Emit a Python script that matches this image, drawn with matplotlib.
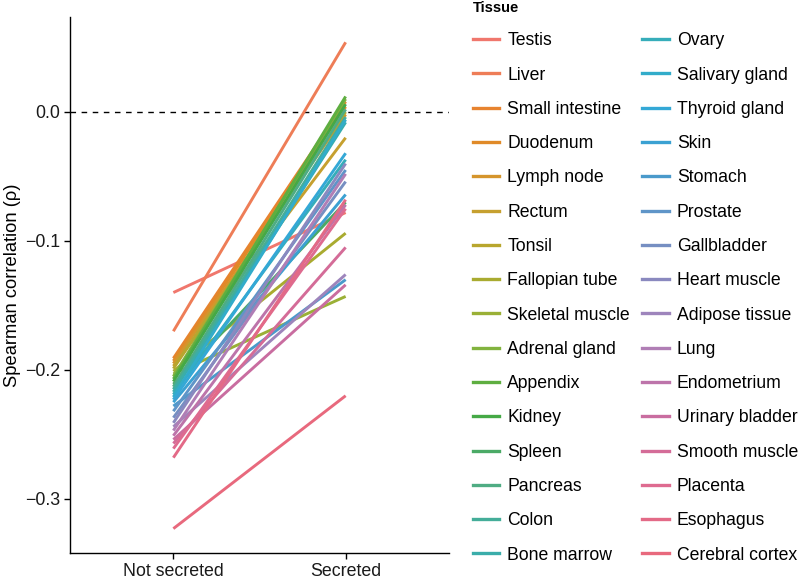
import numpy as np
import matplotlib
matplotlib.use('Agg')
import matplotlib.pyplot as plt
from matplotlib.lines import Line2D

plt.rcParams['font.family'] = ['Liberation Sans', 'DejaVu Sans']

groups = ['Not secreted', 'Secreted']

tissues = ['Testis', 'Liver', 'Small intestine', 'Duodenum', 'Lymph node', 'Rectum',
           'Tonsil', 'Fallopian tube', 'Skeletal muscle', 'Adrenal gland', 'Appendix',
           'Kidney', 'Spleen', 'Pancreas', 'Colon', 'Bone marrow', 'Ovary',
           'Salivary gland', 'Thyroid gland', 'Skin', 'Stomach', 'Prostate',
           'Gallbladder', 'Heart muscle', 'Adipose tissue', 'Lung', 'Endometrium',
           'Urinary bladder', 'Smooth muscle', 'Placenta', 'Esophagus', 'Cerebral cortex']

not_secreted = [-0.140, -0.170, -0.191, -0.193, -0.195, -0.197,
                -0.199, -0.201, -0.203, -0.205, -0.207,
                -0.209, -0.211, -0.213, -0.215, -0.217, -0.219,
                -0.221, -0.223, -0.225, -0.228, -0.232,
                -0.237, -0.241, -0.244, -0.247, -0.251,
                -0.254, -0.257, -0.261, -0.268, -0.323]

secreted = [-0.078, 0.054, 0.008, 0.004, -0.002, -0.020,
            0.000, -0.094, -0.143, 0.010, 0.012,
            0.006, -0.070, 0.002, -0.004, -0.008, -0.037,
            -0.006, -0.032, -0.064, -0.130, -0.045,
            -0.054, -0.040, -0.126, -0.048, -0.072,
            -0.134, -0.105, -0.075, -0.068, -0.220]

# hue palette as it looks in the printed figure (muted ggplot hues)
palette = ['#F0776D', '#EE7D57', '#E7832F', '#E08A28', '#D5952C', '#C6A02F',
           '#B8A62E', '#A9AB30', '#9AB036', '#82B33E', '#5EAE40', '#45A946',
           '#4BAA66', '#4FAC83', '#44AD99', '#3AADAA', '#36ADBA', '#32ACCA',
           '#34A8D6', '#3BA1D2', '#4A9ACB', '#5F95C8', '#768FC2', '#8A89BF',
           '#9E85BC', '#B07EB5', '#BD74AA', '#C96DA0', '#D46C98', '#DE6B90',
           '#E36A87', '#E8697D']

n = len(tissues)

fig = plt.figure(figsize=(8, 5.79), dpi=100)
ax = fig.add_axes([70 / 800, 1 - 553 / 579, (449 - 70) / 800, (553 - 17) / 579])

xpos = [1, 2]
for i in range(n):
    ax.plot(xpos, [not_secreted[i], secreted[i]], color=palette[i], lw=2.1,
            solid_capstyle='butt')

ax.axhline(0, color='black', lw=1.0, ls=(0, (4, 4)), zorder=0)

ax.set_xlim(0.4, 2.6)
ax.set_ylim(-0.3419, 0.0736)
ax.set_xticks(xpos)
ax.set_xticklabels(groups)
ax.set_yticks([0.0, -0.1, -0.2, -0.3])
ax.set_yticklabels(['0.0', '\u22120.1', '\u22120.2', '\u22120.3'])
ax.set_ylabel('Spearman correlation (\u03c1)', fontsize=13.2, labelpad=3)

for s in ['top', 'right']:
    ax.spines[s].set_visible(False)
for s in ['left', 'bottom']:
    ax.spines[s].set_linewidth(1.0)
    ax.spines[s].set_color('black')
ax.tick_params(axis='both', labelsize=12.8, length=4, width=1.0, colors='black',
               labelcolor='#1a1a1a', pad=3)

handles = [Line2D([0], [0], color=palette[i], lw=2.4) for i in range(n)]
leg = fig.legend(handles, tissues, ncol=2, loc='upper left',
                 bbox_to_anchor=(473 / 800, 1 - 1 / 579), frameon=False,
                 fontsize=12.7, title='Tissue',
                 title_fontproperties={'weight': 'bold', 'size': 10.5},
                 alignment='left', handlelength=1.5, handletextpad=0.45,
                 labelspacing=0.98, columnspacing=0.7, borderpad=0, borderaxespad=0)

fig.savefig('out.png', dpi=100)
